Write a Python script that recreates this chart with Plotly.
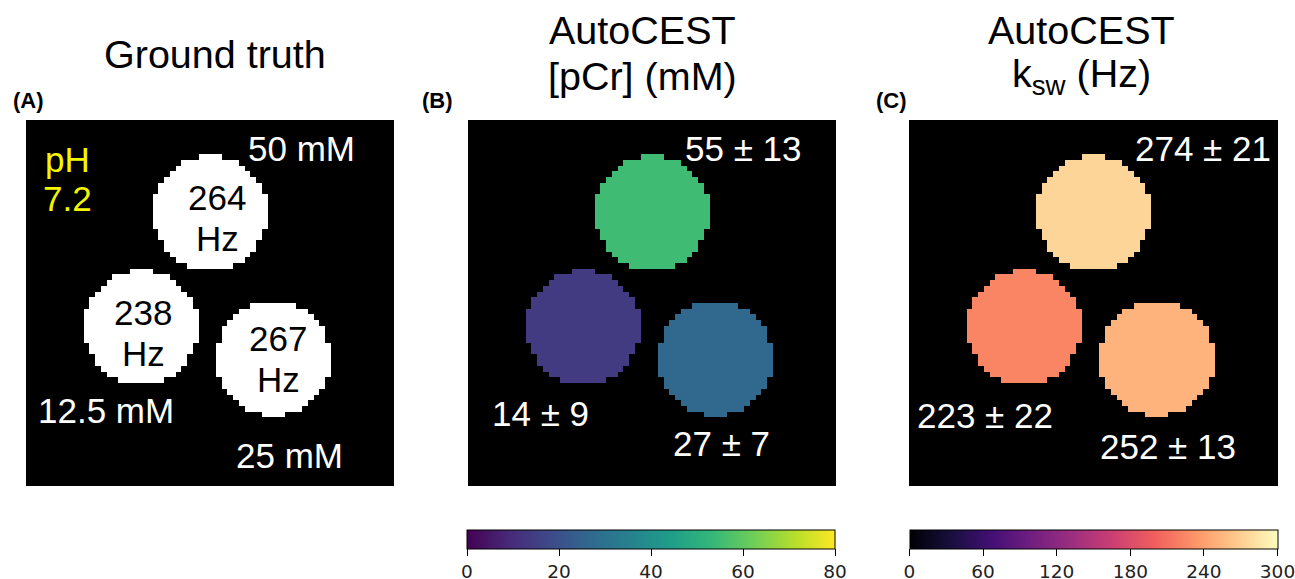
import numpy as np
import plotly.graph_objects as go

W, H = 1295, 579
N = 64  # image matrix size

# Phantom geometry (image pixel units)
circle_cx = [32.0, 20.0, 43.0]
circle_cy = [16.2, 36.2, 41.7]
circle_r = [10.0, 10.0, 10.0]

# Data
truth_conc_mM = ["50", "12.5", "25"]
truth_ksw_Hz = [264, 238, 267]
pcr_mean = [55, 14, 27]
pcr_sd = [13, 9, 7]
ksw_mean = [274, 223, 252]
ksw_sd = [21, 22, 13]
pcr_ticks = [0, 20, 40, 60, 80]
ksw_ticks = [0, 60, 120, 180, 240, 300]

# panel pixel boxes (left, right, top, bottom)
panels = [(26, 394, 120, 486), (468, 836, 120, 486), (909, 1278, 120, 486)]


def fx(px):
    return px / W


def fy(py):
    return 1 - py / H


def build(values):
    z = [[None] * N for _ in range(N)]
    for v, cx, cy, r in zip(values, circle_cx, circle_cy, circle_r):
        for j in range(N):
            for i in range(N):
                if (i + 0.5 - cx) ** 2 + (j + 0.5 - cy) ** 2 <= r ** 2:
                    z[j][i] = v
    return z


cells = [k + 0.5 for k in range(N)]

fig = go.Figure()

fig.add_trace(go.Heatmap(
    x=cells, y=cells, z=build([1, 1, 1]), zmin=0, zmax=1,
    colorscale=[[0, "white"], [1, "white"]], showscale=False,
    xaxis="x", yaxis="y", hoverinfo="skip"))

cb_common = dict(
    orientation="h", lenmode="pixels", len=368, thickness=19,
    xanchor="center", yanchor="top", y=fy(530), xpad=0, ypad=0,
    outlinewidth=1, outlinecolor="black",
    ticks="outside", ticklen=7, tickcolor="black", tickwidth=1,
    ticklabeloverflow="allow",
    tickfont=dict(family="DejaVu Sans", size=18.5, color="#222"),
)

fig.add_trace(go.Heatmap(
    x=cells, y=cells, z=build(pcr_mean), zmin=0, zmax=80,
    colorscale="Viridis", xaxis="x2", yaxis="y2", hoverinfo="skip",
    colorbar=dict(cb_common, x=fx((467 + 835) / 2), tickvals=pcr_ticks)))

fig.add_trace(go.Heatmap(
    x=cells, y=cells, z=build(ksw_mean), zmin=0, zmax=300,
    colorscale="Magma", xaxis="x3", yaxis="y3", hoverinfo="skip",
    colorbar=dict(cb_common, x=fx((909 + 1278) / 2), tickvals=ksw_ticks)))

axis_common = dict(showgrid=False, zeroline=False, showticklabels=False,
                   ticks="", showline=False)
layout_axes = {}
for k, (l, r, t, b) in enumerate(panels):
    sfx = "" if k == 0 else str(k + 1)
    layout_axes["xaxis" + sfx] = dict(axis_common, domain=[fx(l), fx(r)],
                                      range=[0, N], anchor="y" + sfx)
    layout_axes["yaxis" + sfx] = dict(axis_common, domain=[fy(b), fy(t)],
                                      range=[N, 0], anchor="x" + sfx)

ann = []


def text(s, x, y, size=35, color="white", bold=False, family="Liberation Sans"):
    if bold:
        s = "<b>" + s + "</b>"
    ann.append(dict(text=s, x=fx(x), y=fy(y), xref="paper", yref="paper",
                    showarrow=False, xanchor="center", yanchor="middle",
                    font=dict(family=family, size=size, color=color)))


# titles
text("Ground truth", 215, 54, size=39.5, color="black")
text("AutoCEST", 642, 30, size=39.5, color="black")
text("[pCr] (mM)", 642, 76, size=39.5, color="black")
text("AutoCEST", 1081, 30, size=39.5, color="black")
text("k<sub>sw</sub> (Hz)", 1081, 76, size=39.5, color="black")

# panel letters
text("(A)", 28, 100, size=22, color="black", bold=True)
text("(B)", 437, 100, size=22, color="black", bold=True)
text("(C)", 891, 100, size=22, color="black", bold=True)

# panel A labels
text("pH", 67, 160, color="#f5f500")
text("7.2", 67, 199, color="#f5f500")
text(truth_conc_mM[0] + " mM", 301, 148)
text(truth_conc_mM[1] + " mM", 106, 410)
text(truth_conc_mM[2] + " mM", 289, 455)
hz_pos = [(217, 197), (143, 312), (278, 338)]
for v, (x, y) in zip(truth_ksw_Hz, hz_pos):
    text(str(v), x, y, color="black")
    text("Hz", x, y + 41, color="black")

# panel B labels
b_pos = [(743, 148), (540, 413), (722, 443)]
for m, s, (x, y) in zip(pcr_mean, pcr_sd, b_pos):
    text(f"{m} ± {s}", x, y)

# panel C labels
c_pos = [(1203, 148), (985, 415), (1168, 446)]
for m, s, (x, y) in zip(ksw_mean, ksw_sd, c_pos):
    text(f"{m} ± {s}", x, y)

fig.update_layout(
    width=W, height=H,
    margin=dict(l=0, r=0, t=0, b=0, autoexpand=False),
    paper_bgcolor="white", plot_bgcolor="black",
    showlegend=False, annotations=ann, **layout_axes)

fig.write_html(
    "out.html",
    config={"displayModeBar": False},
    post_script="document.body.style.margin='0';document.body.style.overflow='hidden';",
)
